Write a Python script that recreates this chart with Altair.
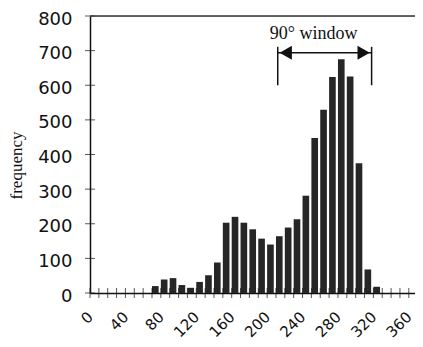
import altair as alt
import pandas as pd

# ---- data ----
bin_start = [70, 80, 90, 100, 110, 120, 130, 140, 150, 160, 170, 180, 190,
             200, 210, 220, 230, 240, 250, 260, 270, 280, 290, 300, 310, 320]
counts = [20, 39, 43, 23, 15, 32, 51, 88, 203, 220, 203, 184, 157,
          140, 164, 189, 213, 281, 448, 529, 624, 675, 625, 375, 68, 18]
x_minor_ticks = [0, 10, 20, 30, 40, 50, 60, 70, 80, 90, 100, 110, 120, 130, 140, 150, 160, 170, 180,
                 190, 200, 210, 220, 230, 240, 250, 260, 270, 280, 290, 300, 310, 320, 330, 340, 350, 360]
x_labels = [0, 40, 80, 120, 160, 200, 240, 280, 320, 360]
y_ticks = [0, 100, 200, 300, 400, 500, 600, 700, 800]
y_title = "frequency"
window_label = "90° window"
window_start = [212]
window_end = [318]
arrow_level = [694]
bracket_low = [600]
bracket_high = [711]
label_level = [735]

INK = "#111111"

xs = alt.Scale(domain=[0, 367], nice=False, zero=False)
ys = alt.Scale(domain=[0, 800], nice=False, zero=False)

ax_x = alt.Axis(
    values=x_labels, labelAngle=-45, labelAlign="right", labelBaseline="middle",
    labelPadding=21, ticks=False, tickSize=0, grid=False,
    domainColor=INK, domainWidth=1.5, labelFont="DejaVu Sans", labelFontSize=15,
    labelColor=INK, labelFlush=False, labelOverlap=False, labelBound=False)
ax_y = alt.Axis(
    values=y_ticks, ticks=False, tickSize=0, grid=False, labelPadding=18,
    domainColor=INK, domainWidth=1.5, labelFont="DejaVu Sans", labelFontSize=18,
    labelColor=INK, labelOffset=3, labelFlush=False, labelOverlap=False, labelBound=False,
    titleX=-74, titleY=149, titleAngle=270, titleAlign="center",
    titleBaseline="middle", titleFont="Liberation Serif", titleFontSize=17,
    titleFontWeight="normal", titleColor=INK)


def X(field):
    return alt.X(field, scale=xs, title=None, axis=ax_x)


def Y(field):
    return alt.Y(field, scale=ys, title=y_title, axis=ax_y)


bars_df = pd.DataFrame({"start": bin_start, "count": counts})

bars = alt.Chart(bars_df).transform_calculate(end="datum.start + 7.5").mark_bar(
    color="#262626"
).encode(x=X("start:Q"), x2="end:Q", y=Y("count:Q"), y2=alt.Y2Datum(0))

xt = alt.Chart(pd.DataFrame({"v": x_minor_ticks, "z": [0] * len(x_minor_ticks)})).mark_tick(
    orient="vertical", size=10, thickness=1, color=INK
).encode(x=X("v:Q"), y=Y("z:Q"))

yt = alt.Chart(pd.DataFrame({"v": y_ticks, "z": [0] * len(y_ticks)})).mark_tick(
    orient="horizontal", size=10, thickness=1, color=INK
).encode(y=Y("v:Q"), x=X("z:Q"))

top = alt.Chart(pd.DataFrame({"y": [800]})).mark_rule(
    color="#333333", strokeWidth=1.5
).encode(y=Y("y:Q"))

win_df = pd.DataFrame({"a": window_start, "b": window_end, "y": arrow_level,
                       "lo": bracket_low, "hi": bracket_high, "ly": label_level,
                       "txt": [window_label]})

shaft = alt.Chart(win_df).mark_rule(color=INK, strokeWidth=1.5).encode(
    x=X("a:Q"), x2="b:Q", y=Y("y:Q"))

left_bar = alt.Chart(win_df).mark_rule(color=INK, strokeWidth=1.5).encode(
    x=X("a:Q"), y=Y("lo:Q"), y2="hi:Q")
right_bar = alt.Chart(win_df).mark_rule(color=INK, strokeWidth=1.5).encode(
    x=X("b:Q"), y=Y("lo:Q"), y2="hi:Q")

left_head = alt.Chart(win_df).mark_point(
    shape="triangle-left", filled=True, size=200, color=INK, opacity=1, xOffset=8
).encode(x=X("a:Q"), y=Y("y:Q"))
right_head = alt.Chart(win_df).mark_point(
    shape="triangle-right", filled=True, size=200, color=INK, opacity=1, xOffset=-8
).encode(x=X("b:Q"), y=Y("y:Q"))

label = alt.Chart(win_df).transform_calculate(mid="(datum.a + datum.b) / 2").mark_text(
    font="Liberation Serif", fontSize=18, align="center", baseline="alphabetic",
    color=INK, dx=-11
).encode(x=X("mid:Q"), y=Y("ly:Q"), text="txt:N")

chart = alt.layer(
    bars, xt, yt, top, shaft, left_bar, right_bar, left_head, right_head, label
).properties(
    width=325, height=277,
    autosize=alt.AutoSizeParams(type="none"),
    padding={"left": 82, "top": 8, "right": 0, "bottom": 48},
).configure_view(stroke=None).configure(background="white")

chart.save("out.html", embed_options={"renderer": "svg", "actions": False})
